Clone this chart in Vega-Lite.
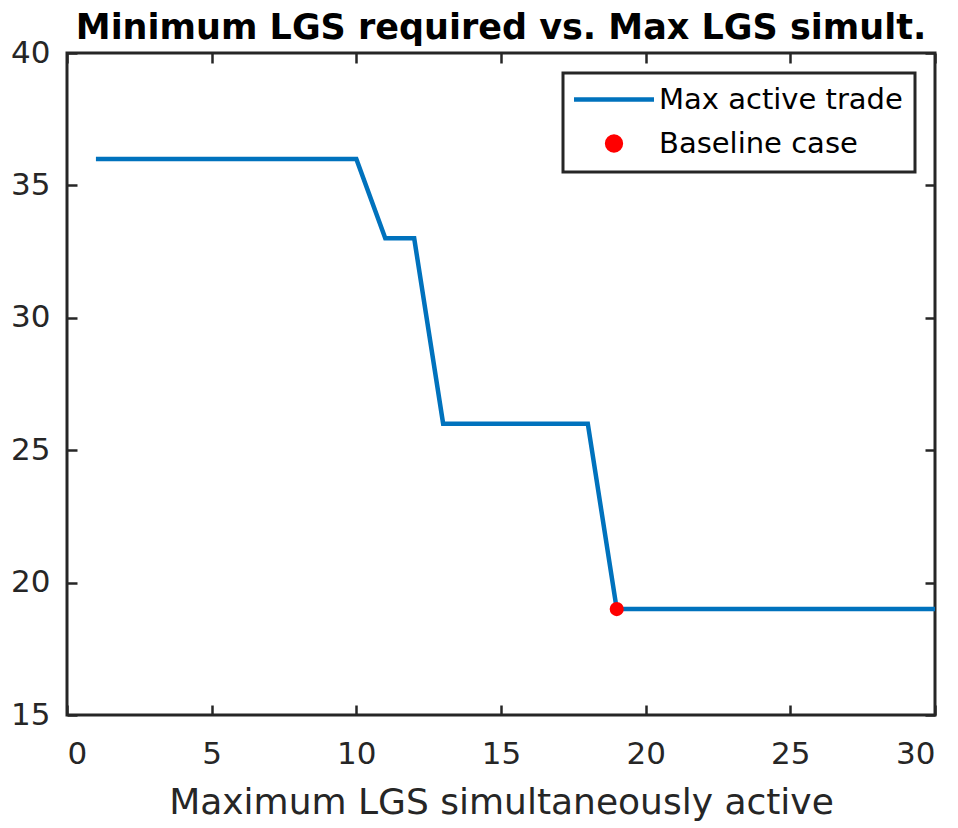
{
  "$schema": "https://vega.github.io/schema/vega-lite/v6.json",
  "width": 868,
  "height": 662,
  "autosize": {"type": "none"},
  "padding": {"left": 67, "top": 53, "right": 23, "bottom": 113},
  "background": "white",
  "config": {
    "font": "DejaVu Sans",
    "view": {"stroke": "#262626", "strokeWidth": 3},
    "axis": {"grid": false, "domain": false, "labelColor": "#262626", "titleColor": "#262626", "tickColor": "#262626", "tickWidth": 2.5, "labelFont": "DejaVu Sans", "titleFont": "DejaVu Sans", "labelFontWeight": "normal", "titleFontWeight": "normal"}
  },
  "title": {"text": "Minimum LGS required vs. Max LGS simult.", "fontSize": 35, "fontWeight": "bold", "color": "black", "anchor": "middle", "offset": -9, "font": "DejaVu Sans"},
  "datasets": {
    "trade": [
      {"n": 1, "lgs": 36}, {"n": 2, "lgs": 36}, {"n": 3, "lgs": 36}, {"n": 4, "lgs": 36}, {"n": 5, "lgs": 36},
      {"n": 6, "lgs": 36}, {"n": 7, "lgs": 36}, {"n": 8, "lgs": 36}, {"n": 9, "lgs": 36}, {"n": 10, "lgs": 36},
      {"n": 11, "lgs": 33}, {"n": 12, "lgs": 33}, {"n": 13, "lgs": 26}, {"n": 14, "lgs": 26}, {"n": 15, "lgs": 26},
      {"n": 16, "lgs": 26}, {"n": 17, "lgs": 26}, {"n": 18, "lgs": 26}, {"n": 19, "lgs": 19}, {"n": 20, "lgs": 19},
      {"n": 21, "lgs": 19}, {"n": 22, "lgs": 19}, {"n": 23, "lgs": 19}, {"n": 24, "lgs": 19}, {"n": 25, "lgs": 19},
      {"n": 26, "lgs": 19}, {"n": 27, "lgs": 19}, {"n": 28, "lgs": 19}, {"n": 29, "lgs": 19}, {"n": 30, "lgs": 19}
    ],
    "baseline": [{"n": 19, "lgs": 19}]
  },
  "layer": [
    {
      "data": {"name": "trade"},
      "mark": {"type": "line", "strokeWidth": 4.5, "clip": false},
      "encoding": {
        "x": {"field": "n", "type": "quantitative", "scale": {"domain": [0, 30], "nice": false, "zero": false},
              "axis": {"orient": "bottom", "values": [0, 5, 10, 15, 20, 25, 30], "tickSize": -10, "labelPadding": 34, "labelFontSize": 31, "title": "Maximum LGS simultaneously active", "titleFontSize": 36, "titlePadding": 16}},
        "y": {"field": "lgs", "type": "quantitative", "scale": {"domain": [15, 40], "nice": false, "zero": false},
              "axis": {"orient": "left", "values": [15, 20, 25, 30, 35, 40], "tickSize": -10, "labelPadding": 27, "labelFontSize": 31, "title": null}},
        "color": {"datum": "Max active trade", "type": "nominal",
                  "scale": {"domain": ["Max active trade", "Baseline case"], "range": ["#0072BD", "#FF0000"]},
                  "legend": {
                    "orient": "none", "legendX": 496, "legendY": 20, "title": null,
                    "labelFontSize": 29, "labelColor": "black", "labelFont": "DejaVu Sans", "labelLimit": 0,
                    "fillColor": "white", "strokeColor": "#262626", "padding": 12, "rowPadding": 12,
                    "symbolType": "stroke", "symbolStrokeWidth": 4.5,
                    "encode": {
                      "legend": {"update": {"strokeWidth": {"value": 3}}},
                      "symbols": {"update": {
                        "x": {"value": 39},
                        "shape": {"signal": "datum.value === 'Max active trade' ? 'stroke' : 'circle'"},
                        "size": {"signal": "datum.value === 'Max active trade' ? 6400 : 190"},
                        "stroke": {"signal": "datum.value === 'Max active trade' ? '#0072BD' : 'transparent'"},
                        "fill": {"signal": "datum.value === 'Max active trade' ? 'transparent' : '#FF0000'"},
                        "strokeWidth": {"value": 4.5},
                        "opacity": {"value": 1}
                      }},
                      "labels": {"update": {"x": {"value": 84}}}
                    }
                  }}
      }
    },
    {
      "data": {"name": "baseline"},
      "mark": {"type": "point", "filled": true, "size": 200, "opacity": 1, "clip": false},
      "encoding": {
        "x": {"field": "n", "type": "quantitative",
              "axis": {"orient": "top", "values": [0, 5, 10, 15, 20, 25, 30], "tickSize": -10, "labels": false, "title": null}},
        "y": {"field": "lgs", "type": "quantitative",
              "axis": {"orient": "right", "values": [15, 20, 25, 30, 35, 40], "tickSize": -10, "labels": false, "title": null}},
        "color": {"datum": "Baseline case", "type": "nominal"}
      }
    }
  ],
  "resolve": {"axis": {"x": "independent", "y": "independent"}}
}
